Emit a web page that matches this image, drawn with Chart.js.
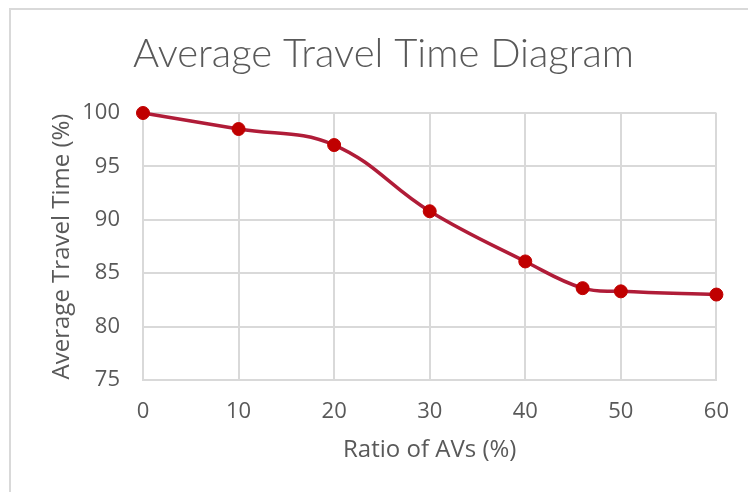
<!DOCTYPE html>
<html>
<head>
<meta charset="utf-8">
<script src="https://cdn.jsdelivr.net/npm/chart.js@4.4.1/dist/chart.umd.min.js"></script>
<style>
  html, body { margin: 0; padding: 0; background: #fff; }
  #wrap { position: relative; width: 748px; height: 492px; overflow: hidden; }
  #frame { position: absolute; left: 9px; top: 8px; width: 760px; height: 500px; border: 2px solid #d9d9d9; box-sizing: border-box; }
  canvas { position: absolute; left: 0; top: 0; }
</style>
</head>
<body>
<div id="wrap">
  <div id="frame"></div>
  <canvas id="c" width="748" height="492"></canvas>
</div>
<script>
const ratios = [0, 10, 20, 30, 40, 46, 50, 60];
const travelTime = [100, 98.5, 97.0, 90.8, 86.1, 83.6, 83.3, 83.0];
const xTicks = [0, 10, 20, 30, 40, 50, 60];
const yTicks = [75, 80, 85, 90, 95, 100];
const titleText = 'Average Travel Time Diagram';
const xTitle = 'Ratio of AVs (%)';
const yTitle = 'Average Travel Time (%)';

const txt = '#595959';
const grid = '#d9d9d9';
const font = '"Open Sans", Lato, sans-serif';

new Chart(document.getElementById('c'), {
  type: 'line',
  data: {
    datasets: [{
      data: ratios.map((x, i) => ({ x: x, y: travelTime[i] })),
      borderColor: '#b01c38',
      borderWidth: 3.5,
      backgroundColor: '#c00000',
      pointBackgroundColor: '#c00000',
      pointBorderColor: '#c00000',
      pointRadius: 6.5,
      pointBorderWidth: 1,
      tension: 0.4,
      fill: false,
      clip: false
    }]
  },
  options: {
    responsive: false,
    animation: false,
    layout: { padding: { left: 19, right: 0, top: 0, bottom: 0 } },
    plugins: {
      legend: { display: false },
      tooltip: { enabled: false },
      title: {
        display: true,
        text: titleText,
        color: txt,
        font: { family: 'Lato, sans-serif', size: 40, weight: 300 },
        padding: { top: 30, bottom: 35 }
      }
    },
    scales: {
      x: {
        type: 'linear',
        min: 0, max: 60,
        afterBuildTicks: s => { s.ticks = xTicks.map(v => ({ value: v })); },
        afterFit: s => { s.height = 112; },
        grid: { color: grid, lineWidth: 2, drawTicks: false },
        border: { color: grid, width: 2 },
        ticks: { color: txt, font: { family: font, size: 22 }, padding: 19, maxRotation: 0 },
        title: { display: true, text: xTitle, color: txt, font: { family: font, size: 24 }, padding: { top: 0, bottom: 27 } }
      },
      y: {
        min: 75, max: 100,
        afterBuildTicks: s => { s.ticks = yTicks.map(v => ({ value: v })); },
        afterFit: s => { s.width = 124; },
        grid: { color: grid, lineWidth: 2, drawTicks: false },
        border: { color: grid, width: 2 },
        ticks: { color: txt, font: { family: font, size: 22 }, padding: 23 },
        title: { display: true, text: yTitle, color: txt, font: { family: font, size: 24 }, padding: { top: 29, bottom: 0 } }
      },
      yr: {
        position: 'right',
        display: true,
        afterFit: s => { s.width = 31; },
        grid: { display: false, drawTicks: false },
        border: { display: false },
        ticks: { display: false },
        title: { display: false }
      }
    }
  }
});
</script>
</body>
</html>
